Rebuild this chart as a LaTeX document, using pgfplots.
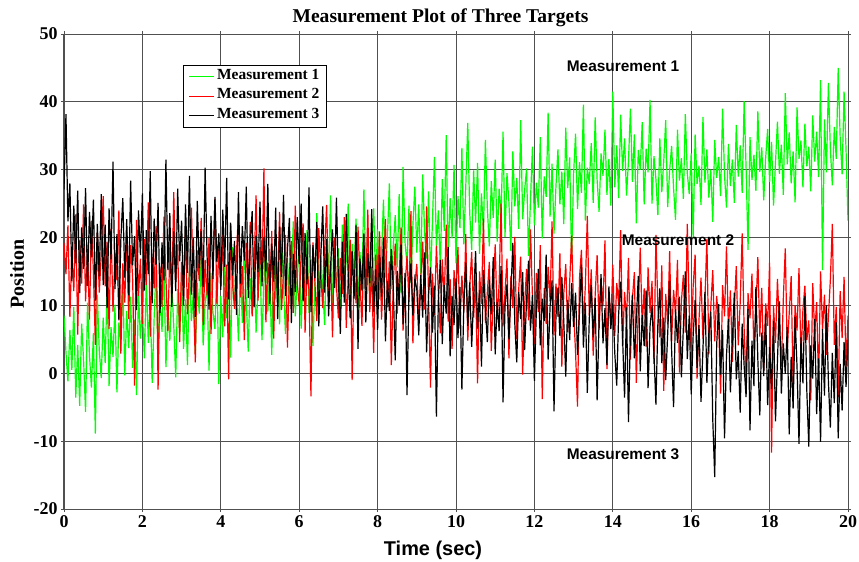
\documentclass[border=0pt]{standalone}
\usepackage{fontspec}
\setmainfont{Liberation Serif}
\newfontfamily\arial{Liberation Sans}
\usepackage{pgfplots}
\usepackage{pgfplotstable}
\pgfplotsset{compat=1.18}
\definecolor{mgreen}{HTML}{00FF00}
\definecolor{mred}{HTML}{FF0000}
\definecolor{gridc}{HTML}{505050}

% t  m1 (target 1)  m2 (target 2)  m3 (target 3)
\pgfplotstableread{
t m1 m2 m3
0.00 8.5 19.2 27.1
0.05 3.1 14.6 38.2
0.10 -1.2 21.8 22.4
0.15 6.4 8.3 28.0
0.20 0.5 17.9 13.6
0.25 9.8 12.1 24.7
0.30 -3.6 23.4 16.2
0.35 4.2 5.7 26.9
0.40 -4.8 19.6 11.8
0.45 7.3 13.2 21.5
0.50 1.9 24.9 15.4
0.55 -5.7 10.6 27.3
0.60 10.4 18.3 12.9
0.65 2.6 7.9 23.8
0.70 -2.1 22.5 17.1
0.75 5.9 15.0 25.6
0.80 -8.9 4.2 10.7
0.85 11.6 20.7 22.0
0.90 3.4 11.9 14.3
0.95 -0.7 17.4 26.4
1.00 8.2 26.1 13.0
1.05 1.5 12.8 21.9
1.10 12.7 19.4 9.6
1.15 -1.9 6.5 24.3
1.20 6.8 21.3 16.8
1.25 2.4 9.1 31.2
1.30 10.1 17.6 12.4
1.35 -2.8 13.7 20.5
1.40 7.5 24.0 7.8
1.45 4.0 2.9 19.7
1.50 14.6 16.2 25.8
1.55 -0.3 10.4 14.1
1.60 9.2 20.8 22.7
1.65 3.7 8.0 11.5
1.70 11.3 18.9 28.4
1.75 0.8 14.3 15.9
1.80 7.9 -1.8 20.2
1.85 -3.2 22.6 9.3
1.90 12.0 11.4 24.0
1.95 5.1 16.9 17.4
2.00 9.6 7.3 26.5
2.05 2.2 19.8 12.2
2.10 13.9 13.0 21.1
2.15 4.5 25.2 14.6
2.20 10.7 5.4 29.8
2.25 -1.4 17.1 10.3
2.30 8.3 12.5 22.8
2.35 15.8 21.7 16.0
2.40 3.0 -2.4 25.1
2.45 11.2 15.6 8.9
2.50 6.1 9.8 19.3
2.55 16.3 23.1 13.7
2.60 0.9 14.0 31.5
2.65 9.4 6.2 15.2
2.70 4.8 18.5 23.6
2.75 13.1 11.0 9.8
2.80 7.0 26.7 20.9
2.85 -0.6 13.4 12.1
2.90 12.4 19.0 27.2
2.95 5.7 4.6 16.5
3.00 14.2 16.4 22.5
3.05 3.6 10.9 10.0
3.10 10.9 21.2 24.9
3.15 1.2 8.7 14.8
3.20 15.5 15.3 29.1
3.25 7.7 24.4 11.6
3.30 11.8 12.0 19.9
3.35 2.9 1.6 8.3
3.40 13.3 18.1 25.4
3.45 8.8 13.6 15.5
3.50 17.2 22.9 21.0
3.55 4.1 7.1 12.7
3.60 10.3 16.7 30.3
3.65 12.9 11.5 17.3
3.70 0.4 19.9 9.4
3.75 14.8 5.8 23.2
3.80 9.0 14.9 13.9
3.85 6.5 25.7 26.0
3.90 16.0 10.2 16.4
3.95 -1.6 18.4 20.6
4.00 11.4 12.7 12.3
4.05 5.3 20.6 24.1
4.10 16.9 6.9 15.7
4.15 8.1 16.0 28.8
4.20 13.7 -0.9 10.9
4.25 2.3 21.9 22.2
4.30 18.6 13.1 14.4
4.35 9.9 9.5 19.5
4.40 12.2 17.8 8.6
4.45 4.7 23.5 26.7
4.50 15.1 11.2 13.2
4.55 7.4 15.8 21.7
4.60 19.4 4.9 16.6
4.65 10.6 19.2 27.5
4.70 3.2 12.6 11.1
4.75 14.0 22.3 18.7
4.80 8.6 8.4 23.9
4.85 17.7 15.5 9.7
4.90 6.0 26.2 20.3
4.95 12.6 10.7 14.9
5.00 16.4 18.6 25.3
5.05 4.9 13.9 12.8
5.10 13.5 30.2 20.1
5.15 20.3 7.5 15.0
5.20 9.1 16.3 27.9
5.25 14.9 11.8 10.2
5.30 2.7 21.0 19.1
5.35 18.1 5.1 13.5
5.40 11.0 17.2 24.4
5.45 15.7 12.4 8.0
5.50 7.2 23.8 21.6
5.55 21.5 9.3 14.2
5.60 12.8 15.1 26.3
5.65 5.8 20.4 11.4
5.70 17.0 3.8 18.2
5.75 10.2 14.5 22.9
5.80 14.3 19.5 7.4
5.85 22.4 8.9 17.6
5.90 8.4 24.7 12.0
5.95 13.9 13.3 23.0
6.00 19.0 10.0 16.1
6.05 6.6 17.7 25.0
6.10 15.4 22.1 10.6
6.15 11.7 6.0 20.7
6.20 21.1 15.9 13.1
6.25 8.9 12.2 27.4
6.30 16.8 -3.4 9.0
6.35 4.0 19.3 18.9
6.40 13.4 13.5 14.0
6.45 23.6 7.7 22.3
6.50 10.8 21.4 6.9
6.55 17.5 14.8 17.0
6.60 12.5 9.6 24.6
6.65 7.1 18.2 11.9
6.70 19.8 24.8 19.8
6.75 14.5 11.1 8.4
6.80 26.2 16.6 15.7
6.85 9.7 5.3 21.2
6.90 16.1 20.0 12.6
6.95 12.0 12.9 25.9
7.00 18.4 8.1 13.8
7.05 8.0 17.0 5.8
7.10 21.9 11.7 19.4
7.15 13.2 23.0 10.4
7.20 16.6 6.7 23.5
7.25 25.0 14.2 14.7
7.30 10.5 19.7 8.1
7.35 19.1 -1.0 18.0
7.40 14.7 15.4 11.0
7.45 22.8 10.3 21.8
7.50 9.3 21.6 3.6
7.55 17.9 13.8 16.9
7.60 12.3 7.0 12.2
7.65 27.1 18.0 20.6
7.70 15.0 12.3 7.5
7.75 20.5 24.1 17.7
7.80 11.1 9.0 13.3
7.85 18.9 15.7 24.2
7.90 24.3 3.0 9.1
7.95 13.6 17.5 15.3
8.00 21.2 11.5 6.4
8.05 10.9 20.9 17.4
8.10 17.3 7.9 11.3
8.15 25.6 14.6 20.0
8.20 14.1 22.7 4.7
8.25 20.0 9.7 13.6
8.30 28.0 16.5 9.2
8.35 12.4 1.2 18.3
8.40 18.7 13.4 12.5
8.45 23.3 19.1 1.9
8.50 15.6 8.8 15.1
8.55 26.4 14.1 10.0
8.60 11.8 21.5 19.0
8.65 30.4 6.3 7.2
8.70 19.3 12.8 14.8
8.75 16.0 17.3 -3.2
8.80 24.7 10.5 11.7
8.85 13.3 23.9 16.2
8.90 21.8 4.4 8.5
8.95 27.5 13.0 13.9
9.00 17.8 16.1 12.4
9.05 24.9 7.2 5.6
9.10 14.6 13.6 14.5
9.15 29.3 19.4 8.2
9.20 20.6 9.4 17.8
9.25 16.9 24.6 3.1
9.30 26.8 11.3 11.6
9.35 13.8 -2.1 15.6
9.40 22.5 14.7 6.0
9.45 31.9 8.6 12.9
9.50 18.5 18.8 -6.4
9.55 24.0 12.1 10.9
9.60 15.3 5.9 16.7
9.65 28.6 16.8 4.3
9.70 21.0 10.8 13.0
9.75 35.1 21.9 8.8
9.80 17.1 7.6 18.6
9.85 25.8 13.9 2.5
9.90 19.9 3.6 11.4
9.95 30.7 15.2 7.1
10.00 16.2 11.0 14.0
10.05 26.1 18.6 5.2
10.10 21.4 6.6 12.7
10.15 33.2 14.4 -2.4
10.20 19.0 9.1 10.1
10.25 27.7 20.5 16.3
10.30 36.9 4.8 7.0
10.35 23.6 12.7 13.4
10.40 18.2 17.9 3.9
10.45 29.9 8.2 11.2
10.50 22.2 13.8 18.0
10.55 31.0 -1.5 6.6
10.60 17.6 15.0 12.3
10.65 26.5 10.2 1.0
10.70 20.8 22.8 15.2
10.75 34.4 7.4 9.5
10.80 24.3 12.0 4.6
10.85 18.7 16.4 13.8
10.90 28.3 3.3 8.7
10.95 22.9 11.6 17.1
11.00 31.5 19.0 2.8
11.05 19.4 8.0 10.5
11.10 27.2 13.1 6.2
11.15 23.0 25.0 15.8
11.20 35.6 6.9 -4.3
11.25 20.1 11.9 9.9
11.30 29.5 16.9 13.1
11.35 25.2 2.2 5.0
11.40 18.0 14.3 11.8
11.45 32.7 9.6 19.2
11.50 24.6 20.1 7.3
11.55 28.8 5.0 1.6
11.60 21.3 12.4 12.0
11.65 37.3 17.2 8.0
11.70 22.7 -0.2 14.9
11.75 26.9 10.0 3.4
11.80 30.2 15.4 10.7
11.85 17.3 7.8 16.6
11.90 25.5 21.2 6.3
11.95 33.4 11.3 11.5
12.00 21.8 4.3 -1.1
12.05 28.1 14.8 9.3
12.10 24.4 9.0 15.4
12.15 34.8 18.9 4.1
12.20 19.9 -3.8 11.0
12.25 29.0 12.6 7.7
12.30 26.0 7.3 17.5
12.35 38.4 15.7 2.0
12.40 23.1 10.6 9.8
12.45 30.9 22.4 13.7
12.50 20.6 5.6 -5.6
12.55 27.6 13.2 8.4
12.60 33.0 8.3 12.6
12.65 24.9 17.7 5.5
12.70 29.7 1.0 14.2
12.75 22.0 11.8 7.6
12.80 36.2 16.1 -0.5
12.85 27.3 6.1 10.8
12.90 31.8 13.5 4.9
12.95 16.2 20.3 13.3
13.00 29.4 9.2 6.8
13.05 35.3 3.1 11.9
13.10 24.2 -4.9 2.7
13.15 31.1 14.0 9.0
13.20 26.6 18.2 16.0
13.25 39.6 7.0 3.8
13.30 22.5 12.9 10.4
13.35 30.3 23.2 -2.9
13.40 27.9 8.5 8.1
13.45 33.9 15.3 13.0
13.50 25.1 2.6 5.3
13.55 37.7 11.5 11.1
13.60 28.5 17.4 -4.0
13.65 23.8 6.4 7.8
13.70 32.4 13.7 14.6
13.75 29.1 9.9 4.4
13.80 35.9 19.6 9.6
13.85 26.3 0.6 1.2
13.90 31.6 12.2 12.8
13.95 24.7 7.1 6.5
14.00 41.5 16.0 10.3
14.05 27.4 5.5 3.0
14.10 33.6 13.3 -1.8
14.15 25.8 10.1 8.9
14.20 38.1 21.1 13.5
14.25 29.8 4.0 5.1
14.30 34.6 12.0 -3.6
14.35 26.2 7.6 9.7
14.40 31.3 17.0 -7.2
14.45 39.0 2.0 6.1
14.50 28.2 11.0 11.6
14.55 35.2 14.9 2.2
14.60 22.1 -1.4 7.9
14.65 32.9 9.5 14.3
14.70 30.0 18.5 0.3
14.75 37.0 6.8 8.6
14.80 24.9 12.5 4.0
14.85 33.1 3.9 12.2
14.90 29.6 15.6 -2.2
14.95 40.3 8.9 6.9
15.00 25.0 13.6 10.0
15.05 32.0 1.4 2.9
15.10 28.6 20.4 -4.6
15.15 23.3 9.7 7.4
15.20 34.6 5.3 12.5
15.25 26.7 15.9 1.5
15.30 31.3 -2.6 8.2
15.35 37.3 11.7 -1.0
15.40 24.5 7.2 5.8
15.45 29.9 18.0 13.6
15.50 33.5 4.6 3.5
15.55 27.3 12.3 -5.0
15.60 22.6 8.7 9.4
15.65 35.9 16.7 4.5
15.70 28.4 0.1 11.3
15.75 31.7 10.6 -0.6
15.80 25.7 14.5 6.7
15.85 38.2 6.0 15.0
15.90 29.5 22.0 2.1
15.95 26.4 9.3 8.5
16.00 32.4 3.5 -3.1
16.05 20.0 12.8 5.6
16.10 35.2 17.5 10.8
16.15 27.9 -0.8 0.8
16.20 30.6 8.0 7.1
16.25 24.8 14.1 -4.2
16.30 37.8 5.1 3.6
16.35 28.1 10.9 12.0
16.40 33.0 19.8 -1.4
16.45 25.9 2.8 5.9
16.50 30.0 9.8 9.1
16.55 22.3 15.2 -6.8
16.60 34.4 4.7 -15.3
16.65 28.8 11.4 4.2
16.70 31.9 7.5 10.2
16.75 26.1 -3.0 -0.2
16.80 39.0 13.0 6.4
16.85 29.2 8.4 -9.6
16.90 24.4 18.7 2.6
16.95 33.8 6.2 8.0
17.00 27.6 12.2 -2.8
17.05 31.5 1.7 5.0
17.10 25.1 9.6 11.9
17.15 36.6 15.8 -0.9
17.20 29.0 4.1 3.3
17.25 33.6 10.4 -5.8
17.30 26.6 20.6 7.3
17.35 40.1 6.6 1.1
17.40 30.3 -1.2 -3.5
17.45 18.2 11.8 9.5
17.50 34.8 8.1 -8.4
17.55 28.5 14.7 4.8
17.60 32.2 3.2 -1.9
17.65 26.9 9.0 12.7
17.70 38.6 17.1 2.0
17.75 29.7 5.4 -6.2
17.80 33.3 12.6 6.0
17.85 25.5 0.4 -0.4
17.90 31.8 10.3 8.8
17.95 36.0 7.0 -4.7
18.00 28.2 16.3 3.9
18.05 34.1 -11.7 -2.3
18.10 24.7 9.9 7.7
18.15 31.0 4.5 -7.1
18.20 37.1 13.9 1.8
18.25 29.4 6.9 10.6
18.30 33.7 1.0 -3.0
18.35 26.3 11.0 4.4
18.40 41.3 18.4 -0.1
18.45 30.8 3.4 6.8
18.50 35.5 8.8 -9.0
18.55 28.0 14.3 2.4
18.60 32.7 -2.0 -5.2
18.65 25.2 10.0 8.3
18.70 39.2 6.3 0.9
18.75 31.6 15.5 -10.4
18.80 34.3 2.3 5.3
18.85 27.4 9.4 -1.5
18.90 36.8 12.9 11.4
18.95 30.5 4.9 -2.7
19.00 33.4 7.8 -10.8
19.05 26.8 -4.0 4.1
19.10 38.0 13.3 -0.8
19.15 31.2 5.8 8.0
19.20 35.6 10.5 -6.0
19.25 28.9 -1.7 2.2
19.30 43.2 15.0 -10.1
19.35 15.2 6.4 6.5
19.40 37.4 11.6 -3.3
19.45 29.6 2.7 10.0
19.50 42.8 8.3 -1.2
19.55 33.0 13.8 -8.0
19.60 27.7 22.0 3.0
19.65 36.3 4.2 -4.4
19.70 31.6 9.8 7.5
19.75 45.0 -3.5 -9.6
19.80 34.7 12.1 1.4
19.85 29.3 5.2 -5.5
19.90 41.5 14.2 4.6
19.95 32.9 0.8 -2.0
20.00 22.5 8.5 5.0
}\meas

\begin{document}
\begin{tikzpicture}
\useasboundingbox (-64bp,-53bp) rectangle (795bp,509bp);
\begin{axis}[
  scale only axis,
  width=784bp, height=475bp,
  xmin=0, xmax=20, ymin=-20, ymax=50,
  xtick={0,2,...,20}, ytick={-20,-10,...,50},
  grid=major,
  major grid style={draw=gridc, line width=0.9bp},
  axis line style={draw=gridc, line width=1bp},
  tick align=outside,
  major tick length=3bp,
  tick style={draw=gridc, line width=0.9bp},
  /pgf/number format/assume math mode=true,
  ticklabel style={font=\fontsize{18}{20}\selectfont\bfseries},
  legend style={at={(axis cs:3.036,45.43)}, anchor=north west,
    draw=black, line width=0.8bp, fill=white,
    font=\fontsize{15.5}{17}\selectfont\bfseries,
    inner xsep=5bp, inner ysep=1.5bp, row sep=0bp,
    nodes={inner xsep=2.5bp, inner ysep=0bp, text height=12.5bp, text depth=7bp}},
  legend cell align=left,
  legend image code/.code={\draw[#1, line width=1.2bp] (0bp,0bp) -- (25bp,0bp);},
]
\addplot[mgreen, line width=1.2bp] table[x=t, y=m1] {\meas};
\addlegendentry{Measurement 1}
\addplot[mred, line width=1.2bp] table[x=t, y=m2] {\meas};
\addlegendentry{Measurement 2}
\addplot[black, line width=1.2bp] table[x=t, y=m3] {\meas};
\addlegendentry{Measurement 3}

\node[font=\arial\fontsize{15.5}{17}\selectfont\bfseries, anchor=base west] at (axis cs:12.737,44.44) {Measurement 1};
\node[font=\arial\fontsize{15.5}{17}\selectfont\bfseries, anchor=base west] at (axis cs:14.14,18.8) {Measurement 2};
\node[font=\arial\fontsize{15.5}{17}\selectfont\bfseries, anchor=base west] at (axis cs:12.737,-12.68) {Measurement 3};
\end{axis}
\node[font=\fontsize{19.6}{22}\selectfont\bfseries, anchor=base] at (376.5bp,486.3bp) {Measurement Plot of Three Targets};
\node[font=\arial\fontsize{20}{22}\selectfont\bfseries, anchor=base] at (369bp,-46bp) {Time (sec)};
\node[font=\fontsize{20}{22}\selectfont\bfseries, rotate=90] at (-47bp,235bp) {Position};
\end{tikzpicture}
\end{document}
